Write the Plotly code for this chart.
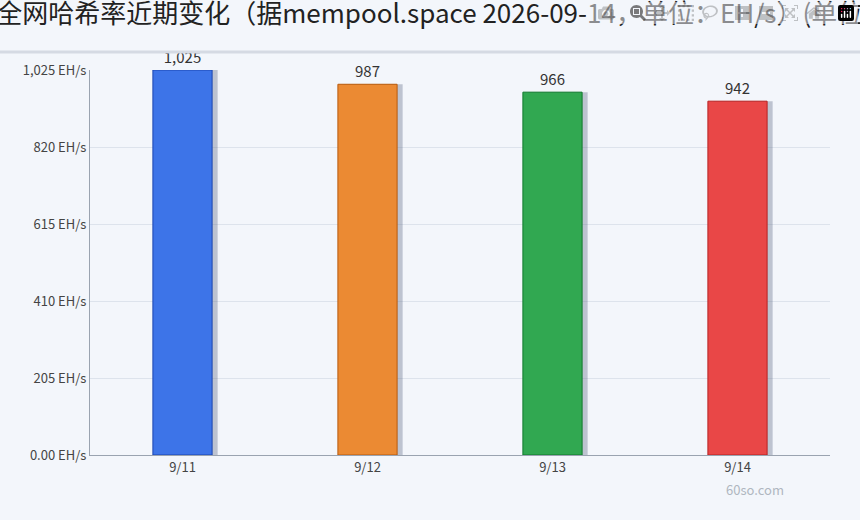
import plotly.graph_objects as go

categories = ["9/11", "9/12", "9/13", "9/14"]
values = [1025, 987, 966, 942]
colors = ["#3d74e8", "#eb8a33", "#31a851", "#e94747"]
edge_colors = ["#1a45b0", "#b85a0c", "#107a2c", "#b82222"]
tick_vals = [0, 205, 410, 615, 820, 1025]
tick_text = ["0.00 EH/s", "205 EH/s", "410 EH/s", "615 EH/s", "820 EH/s", "1,025 EH/s"]
value_labels = ["1,025", "987", "966", "942"]
title = "比特币全网哈希率近期变化（据mempool.space 2026-09-14，单位：EH/s）(单位: EH/s)"

font = "Noto Sans CJK SC, Noto Sans, sans-serif"
fig = go.Figure()
fig.add_trace(go.Bar(x=categories, y=values, width=0.32, offset=-0.13,
                     marker=dict(color="rgba(90,100,130,0.35)", line=dict(width=0)),
                     hoverinfo="skip", showlegend=False))
fig.add_trace(go.Bar(x=categories, y=values, width=0.32, offset=-0.16,
                     marker=dict(color=colors, line=dict(color=edge_colors, width=1)),
                     text=value_labels, textposition="outside", cliponaxis=False,
                     textfont=dict(size=15, color="#333"), showlegend=False))
fig.update_layout(
    width=860, height=520, barmode="overlay",
    paper_bgcolor="#f3f6fb", plot_bgcolor="#f3f6fb",
    margin=dict(l=90, r=30, t=70, b=65),
    font=dict(family=font, color="#444"),
    title=dict(text=title, x=0.5, xanchor="center", y=0.99, yanchor="top",
               font=dict(size=26, color="#222")),
    xaxis=dict(showline=True, linecolor="#9aa3b0", tickfont=dict(size=13, color="#444"),
               ticks="", showgrid=False, range=[-0.5, 3.5]),
    yaxis=dict(range=[0, 1025], tickvals=tick_vals, ticktext=tick_text,
               showline=True, linecolor="#9aa3b0", gridcolor="#dde3ec",
               tickfont=dict(size=13, color="#444"), zeroline=False),
    shapes=[dict(type="line", xref="paper", yref="paper", x0=-0.2, x1=1.1,
                 y0=1.047, y1=1.047, line=dict(color="#d5dae3", width=3))],
    annotations=[dict(text="60so.com", xref="paper", yref="paper", x=0.94, y=-0.12,
                      showarrow=False, font=dict(size=13, color="#b0b6c0"))],
)
fig.write_html("out.html",
               post_script="document.body.style.margin='0';document.body.style.overflow='hidden';")
